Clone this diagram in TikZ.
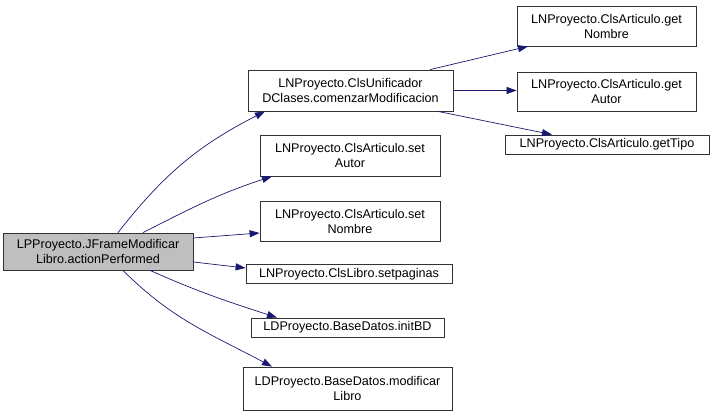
\documentclass[tikz,border=0pt]{standalone}
\usepackage{fontspec}
\setmainfont{Liberation Sans}
\usetikzlibrary{arrows.meta}
\definecolor{edgeblue}{HTML}{191970}
\definecolor{mainfill}{HTML}{BFBFBF}
\begin{document}
\begin{tikzpicture}[x=1pt,y=1pt,
  fn/.style={draw=black!80, line width=0.8pt, fill=white, align=center, inner sep=0pt,
    font=\fontsize{12.6}{15}\selectfont},
  edge/.style={draw=edgeblue, line width=0.7pt, -{Triangle[length=10pt,width=7pt]}}]
\useasboundingbox (0,0) rectangle (713,416);
\node[fn, fill=mainfill, minimum width=190, minimum height=37] (main) at (98,164.5) {LPProyecto.JFrameModificar\\Libro.actionPerformed};
\node[fn, minimum width=205, minimum height=41] (com) at (350.5,325.5) {LNProyecto.ClsUnificador\\DClases.comenzarModificacion};
\node[fn, minimum width=179, minimum height=40] (gnom) at (606.5,390) {LNProyecto.ClsArticulo.get\\Nombre};
\node[fn, minimum width=179, minimum height=39] (gaut) at (606.5,324.5) {LNProyecto.ClsArticulo.get\\Autor};
\node[fn, minimum width=204, minimum height=19] (gtip) at (607,271.5) {LNProyecto.ClsArticulo.getTipo};
\node[fn, minimum width=180, minimum height=41] (saut) at (350,260.5) {LNProyecto.ClsArticulo.set\\Autor};
\node[fn, minimum width=180, minimum height=40] (snom) at (350,195) {LNProyecto.ClsArticulo.set\\Nombre};
\node[fn, minimum width=206, minimum height=19] (spag) at (349,142) {LNProyecto.ClsLibro.setpaginas};
\node[fn, minimum width=193, minimum height=19] (ibd) at (347.5,88.5) {LDProyecto.BaseDatos.initBD};
\node[fn, minimum width=209, minimum height=43] (mlib) at (347.5,27.5) {LDProyecto.BaseDatos.modificar\\Libro};
\draw[edge] ([xshift=20]main.north) to[out=52,in=207] ([xshift=-85.5]com.south);
\draw[edge] ([xshift=45]main.north) to[out=27,in=198] ([xshift=-78]saut.south);
\draw[edge] ([yshift=13.5]main.east) -- ([yshift=-12]snom.west);
\draw[edge] ([yshift=-10.5]main.east) -- ([yshift=6]spag.west);
\draw[edge] ([xshift=52]main.south) to[out=-24,in=162] ([xshift=-70.5]ibd.north);
\draw[edge] ([xshift=25]main.south) to[out=-45,in=152] ([xshift=-75.5]mlib.north);
\draw[edge] ([xshift=79.5]com.north) -- ([xshift=-78.5]gnom.south);
\draw[edge] (com.east) -- (com.east -| gaut.west);
\draw[edge] ([xshift=87.5]com.south) -- ([xshift=-55]gtip.north);
\end{tikzpicture}
\end{document}
